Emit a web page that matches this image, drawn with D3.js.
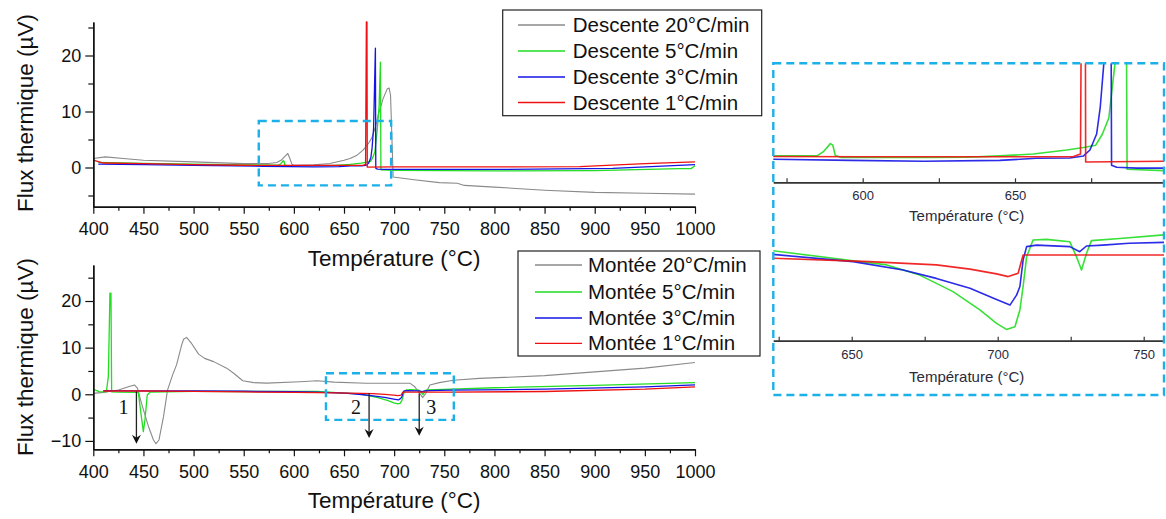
<!DOCTYPE html>
<html><head><meta charset="utf-8">
<script src="https://cdn.jsdelivr.net/npm/d3@7"></script>
<style>
body{margin:0;background:#fff}
svg{display:block}
text{font-family:"Liberation Sans",Arial,Helvetica,sans-serif}
</style>
</head><body>
<svg id="c" width="1166" height="519"></svg>
<script>
// ---------------- DATA ----------------
const xMajorTicks = [400,450,500,550,600,650,700,750,800,850,900,950,1000];
const xMinorTicks = [425,475,525,575,625,675,725,775,825,875,925,975];
const yTicksTop = [0,10,20];
const yMinorTop = [-5,5,15,25];
const yTicksBot = [-10,0,10,20];
const yMinorBot = [-5,5,15,25];

const descLabels = ["Descente 20°C/min","Descente 5°C/min","Descente 3°C/min","Descente 1°C/min"];
const montLabels = ["Montée 20°C/min","Montée 5°C/min","Montée 3°C/min","Montée 1°C/min"];
const seriesColors = ["#8a8a8a","#22dd22","#1414e6","#ee1111"];

// Descente (cooling) curves: [temperature °C, flux µV]
const desc20 = [[400,1.6],[412,1.9],[430,1.6],[450,1.3],[500,1.0],[550,0.7],[575,0.7],[583,0.9],[588,1.4],[591,2.0],[594,2.5],[596,1.6],[598,0.6],[600,0.4],[620,0.5],[636,0.7],[650,1.3],[656,1.6],[663,2.2],[669,3.1],[674,4.2],[677.5,5.2],[681,7.0],[684,9.3],[689,12.3],[693,14.0],[695,14.2],[696.4,12.9],[699,-1.7],[720,-2.2],[745,-2.7],[763,-2.8],[770,-3.2],[800,-3.5],[850,-4.05],[900,-4.45],[950,-4.6],[1000,-4.75]];
const desc5 = [[405,0.9],[450,0.75],[500,0.6],[550,0.45],[585,0.43],[587,0.68],[589.4,1.2],[590.2,1.1],[591,0.45],[593,0.33],[620,0.33],[634,0.35],[645,0.43],[656,0.55],[667,0.8],[673,0.97],[676.5,1.1],[678.7,1.8],[680.8,2.8],[683,6.5],[685,11],[686.3,18.8],[686.8,-0.4],[700,-0.5],[800,-0.6],[900,-0.55],[985,-0.2],[996,-0.2],[1000,0.3]];
const desc3 = [[405,0.6],[450,0.5],[500,0.4],[570,0.22],[596,0.15],[620,0.1],[645,0.15],[657,0.28],[668,0.3],[672.5,0.43],[674.6,0.8],[676.8,1.8],[678,3.5],[679.5,7],[681.3,21.3],[681.7,-0.15],[683.4,-0.28],[690,-0.33],[800,-0.35],[918,-0.15],[1000,0.5]];
const desc1 = [[400,1.3],[410,0.8],[450,0.7],[500,0.5],[550,0.4],[600,0.38],[669,0.38],[671.5,0.55],[672.3,26],[672.9,26],[673.2,0.05],[700,0.1],[818,0.1],[885,0.15],[950,0.7],[1000,1.0]];

// Montée (heating) curves
const mont20 = [[400,0.2],[410,0.4],[425,0.9],[435,1.6],[441,2.0],[444,1.3],[448,-1.9],[455,-6.9],[460,-9.8],[462.5,-10.6],[465.5,-9.8],[470,-4.8],[474,0.9],[479,4.1],[483,6.3],[488,10.5],[490,11.8],[493,12.2],[498,10.9],[505,8.6],[511,7.7],[520,7.0],[533,5.6],[540,4.5],[549,2.9],[560,2.5],[573,2.4],[606,2.7],[623,2.9],[640,2.6],[672,2.35],[716,2.35],[720.6,1.6],[725.6,0.2],[728.3,-0.7],[731.6,0.2],[735.6,2.0],[745,2.5],[759,3.0],[785,3.4],[850,4.0],[900,4.8],[950,5.6],[1000,6.8]];
const mont5 = [[400,1.07],[406,0.56],[413,0.5],[415,3.8],[416.6,21.7],[417.6,21.7],[418.3,0.5],[425,0.45],[444.9,0.4],[447.5,-4.1],[449.9,-8.0],[451.5,-5.5],[453.8,-0.15],[456.5,0.45],[500,0.6],[550,0.6],[600,0.6],[623,0.59],[650.5,0.26],[662,0.12],[673.3,-0.22],[684.7,-0.77],[693.9,-1.38],[699.6,-1.83],[703,-2.03],[705.9,-1.94],[707.6,-1.38],[708.7,-0.6],[709.9,0.39],[712.1,0.95],[716.7,0.97],[724.7,0.89],[727,0.39],[728.7,-0.05],[730.4,0.5],[732.1,0.93],[741.8,1.0],[757,1.12],[800,1.4],[900,1.9],[1000,2.5]];
const mont3 = [[410,0.77],[450,0.75],[500,0.7],[550,0.65],[600,0.55],[623,0.47],[650.5,0.23],[667.6,-0.05],[679,-0.33],[690.5,-0.66],[699.6,-1.03],[704.2,-1.22],[706.5,-0.88],[707.6,-0.6],[708.7,0.28],[709.9,0.73],[713.3,0.78],[724.7,0.73],[728.1,0.56],[730.4,0.75],[736,0.78],[745,0.84],[757,0.87],[850,1.1],[950,1.6],[1000,2.0]];
const mont1 = [[410,0.7],[450,0.7],[500,0.6],[550,0.5],[600,0.4],[623,0.34],[656,0.23],[679,0.12],[690.5,-0.02],[699.6,-0.18],[703.6,-0.27],[707,-0.16],[708.7,0.45],[757,0.45],[850,0.6],[950,1.1],[1000,1.6]];

// annotations (data coordinates)
const zoomBoxTop = [565, 697, -3.2, 8.3];
const zoomBoxBot = [632, 759.5, -5.5, 4.5];
const arrowT = [443, 675, 725];
const arrowFrom = [0.6, 0.2, 0.2];
const arrowTo = [-10.6, -9.4, -8.9];
const arrowLabels = ["1","2","3"];
const insetTopTicks = [600, 650];
const insetTopMinor = [575, 625, 675];
const insetBotTicks = [650, 700, 750];
const insetBotMinor = [625, 675, 725];

// ---------------- DRAW ----------------
const svg = d3.select("#c");
const BLUE = "#1cb0e8";
const fmt = d3.format("d");

function drawMain(o){
  const g = svg.append("g");
  const x = o.x, y = o.y;
  const line = d3.line().x(d=>x(d[0])).y(d=>y(d[1]));
  o.series.forEach((s,i)=>{
    g.append("path").attr("d", line(s)).attr("fill","none")
      .attr("stroke", seriesColors[i]).attr("stroke-width", i===0?1.1:1.3)
      .attr("stroke-linejoin","round");
  });
  const xa = g.append("g").attr("transform",`translate(0,${y.range()[0]})`);
  xa.call(d3.axisBottom(x).tickValues(xMinorTicks).tickSize(4).tickSizeOuter(0).tickFormat(""));
  const xb = g.append("g").attr("transform",`translate(0,${y.range()[0]})`);
  xb.call(d3.axisBottom(x).tickValues(xMajorTicks).tickSize(7).tickSizeOuter(0).tickFormat(fmt));
  xb.selectAll("text").attr("y",28.3).attr("dy",0).style("font-size","18px").attr("fill","#111");
  const ya = g.append("g").attr("transform",`translate(${x.range()[0]},0)`);
  ya.call(d3.axisLeft(y).tickValues(o.yMinor).tickSize(5).tickSizeOuter(0).tickFormat(""));
  const yb = g.append("g").attr("transform",`translate(${x.range()[0]},0)`);
  yb.call(d3.axisLeft(y).tickValues(o.yTicks).tickSize(8).tickPadding(4).tickSizeOuter(0).tickFormat(fmt));
  yb.selectAll("text").style("font-size","18px").attr("fill","#111");
  g.selectAll(".domain").attr("stroke","#111").attr("stroke-width",1.4);
  g.selectAll(".tick line").attr("stroke","#111").attr("stroke-width",1.2);
  g.append("text").attr("x",(x.range()[0]+x.range()[1])/2).attr("y",y.range()[0]+59)
    .attr("text-anchor","middle").style("font-size","22.5px").attr("fill","#111").text("Température (°C)");
  g.append("text").attr("transform",`translate(33,${o.yTitleC}) rotate(-90)`)
    .attr("text-anchor","middle").style("font-size","22.5px").attr("fill","#111").text("Flux thermique (µV)");
  const b = o.box;
  g.append("rect").attr("x",x(b[0])).attr("y",y(b[3])).attr("width",x(b[1])-x(b[0])).attr("height",y(b[2])-y(b[3]))
    .attr("fill","none").attr("stroke",BLUE).attr("stroke-width",2.4).attr("stroke-dasharray","8,5");
  const L = o.legend;
  g.append("rect").attr("x",L.x).attr("y",L.y).attr("width",L.w).attr("height",L.h)
    .attr("fill","#fff").attr("stroke","#222").attr("stroke-width",1.2);
  o.labels.forEach((t,i)=>{
    const cy = L.rows[i];
    g.append("line").attr("x1",L.lx0).attr("x2",L.lx1).attr("y1",cy).attr("y2",cy)
      .attr("stroke",seriesColors[i]).attr("stroke-width",1.3);
    g.append("text").attr("x",L.tx).attr("y",cy+7).style("font-size","20.5px").attr("fill","#111").text(t);
  });
  return g;
}

const xTop = d3.scaleLinear().domain([400,1000]).range([93.3,695]);
const yTop = d3.scaleLinear().domain([-7,26]).range([206.7,21.9]);
drawMain({x:xTop,y:yTop,series:[desc20,desc5,desc3,desc1],yTicks:yTicksTop,yMinor:yMinorTop,
  yTitleC:113,box:zoomBoxTop,labels:descLabels,
  legend:{x:502.7,y:10,w:259,h:105.7,rows:[25,51,77,102.5],lx0:518,lx1:565,tx:572.7}});

const xBot = d3.scaleLinear().domain([400,1000]).range([93.3,695]);
const yBot = d3.scaleLinear().domain([-11.8,27.7]).range([449.3,265.1]);
const gb = drawMain({x:xBot,y:yBot,series:[mont20,mont5,mont3,mont1],yTicks:yTicksBot,yMinor:yMinorBot,
  yTitleC:357,box:zoomBoxBot,labels:montLabels,
  legend:{x:518,y:251,w:242,h:105,rows:[265,292,318,343.3],lx0:535,lx1:582,tx:588}});

arrowT.forEach((t,i)=>{
  const ax = xBot(t), y0 = yBot(arrowFrom[i]), y1 = yBot(arrowTo[i]);
  gb.append("line").attr("x1",ax).attr("x2",ax).attr("y1",y0).attr("y2",y1-4)
    .attr("stroke","#222").attr("stroke-width",1.3);
  gb.append("path").attr("d",`M${ax},${y1} L${ax-4.5},${y1-9} L${ax},${y1-6} L${ax+4.5},${y1-9} Z`).attr("fill","#111");
  const lx = i===2 ? ax+12 : ax-13;
  gb.append("text").attr("x",lx).attr("y",yBot(-4.2)).attr("text-anchor","middle")
    .style("font-family","'Liberation Serif','Times New Roman',serif").style("font-size","20px").attr("fill","#111").text(arrowLabels[i]);
});

// ---------------- INSET ----------------
const ig = svg.append("g");
const insX0 = 773.3, insX1 = 1164;
ig.append("defs").html(
  `<clipPath id="clipT"><rect x="${insX0}" y="63.3" width="${insX1-insX0}" height="119"/></clipPath>`+
  `<clipPath id="clipB"><rect x="${insX0}" y="222" width="${insX1-insX0}" height="118.7"/></clipPath>`);

function drawInset(xs, ys, axisY, clipId, series, ticks, minor, labelY, titleY){
  const line = d3.line().x(d=>xs(d[0])).y(d=>ys(d[1]));
  const cg = ig.append("g").attr("clip-path",`url(#${clipId})`);
  series.forEach((s,i)=>{
    cg.append("path").attr("d",line(s)).attr("fill","none").attr("stroke",seriesColors[i+1])
      .attr("stroke-width",1.6).attr("stroke-linejoin","round").attr("opacity",0.9);
  });
  const ag = ig.append("g").attr("transform",`translate(0,${axisY})`);
  ag.call(d3.axisBottom(xs).tickValues(minor).tickSize(-4).tickSizeOuter(0).tickFormat(""));
  const ag2 = ig.append("g").attr("transform",`translate(0,${axisY})`);
  ag2.call(d3.axisBottom(xs).tickValues(ticks).tickSize(-4).tickSizeOuter(0).tickFormat(fmt));
  ag2.selectAll("text").attr("y",labelY).attr("dy",0).style("font-size","13px").attr("fill","#2a2a3a");
  ig.selectAll(".domain").attr("stroke","#333").attr("stroke-width",1.5);
  ig.selectAll(".tick line").attr("stroke","#333").attr("stroke-width",1.2);
  ig.append("text").attr("x",(insX0+insX1)/2-2).attr("y",axisY+titleY).attr("text-anchor","middle")
    .style("font-size","15px").attr("fill","#2a2a3a").text("Température (°C)");
}

const xInsTop = d3.scaleLinear().domain([600,650]).range([862.7,1015]);
xInsTop.domain([xInsTop.invert(insX0), xInsTop.invert(insX1)]).range([insX0, insX1]);
const yInsTop = d3.scaleLinear().domain([0,1]).range([162.8,146.8]);
drawInset(xInsTop, yInsTop, 182.3, "clipT", [desc5, desc3, desc1], insetTopTicks, insetTopMinor, 17.7, 39);

const xInsBot = d3.scaleLinear().domain([650,700]).range([851.7,997.7]);
xInsBot.domain([xInsBot.invert(insX0), xInsBot.invert(insX1)]).range([insX0, insX1]);
const yInsBot = d3.scaleLinear().domain([0,1]).range([268.5,238.5]);
drawInset(xInsBot, yInsBot, 340.7, "clipB", [mont5, mont3, mont1], insetBotTicks, insetBotMinor, 18.8, 41.5);

ig.append("rect").attr("x",insX0).attr("y",63.3).attr("width",insX1-insX0).attr("height",395-63.3)
  .attr("fill","none").attr("stroke",BLUE).attr("stroke-width",2.4).attr("stroke-dasharray","8,5");
</script>
</body></html>
